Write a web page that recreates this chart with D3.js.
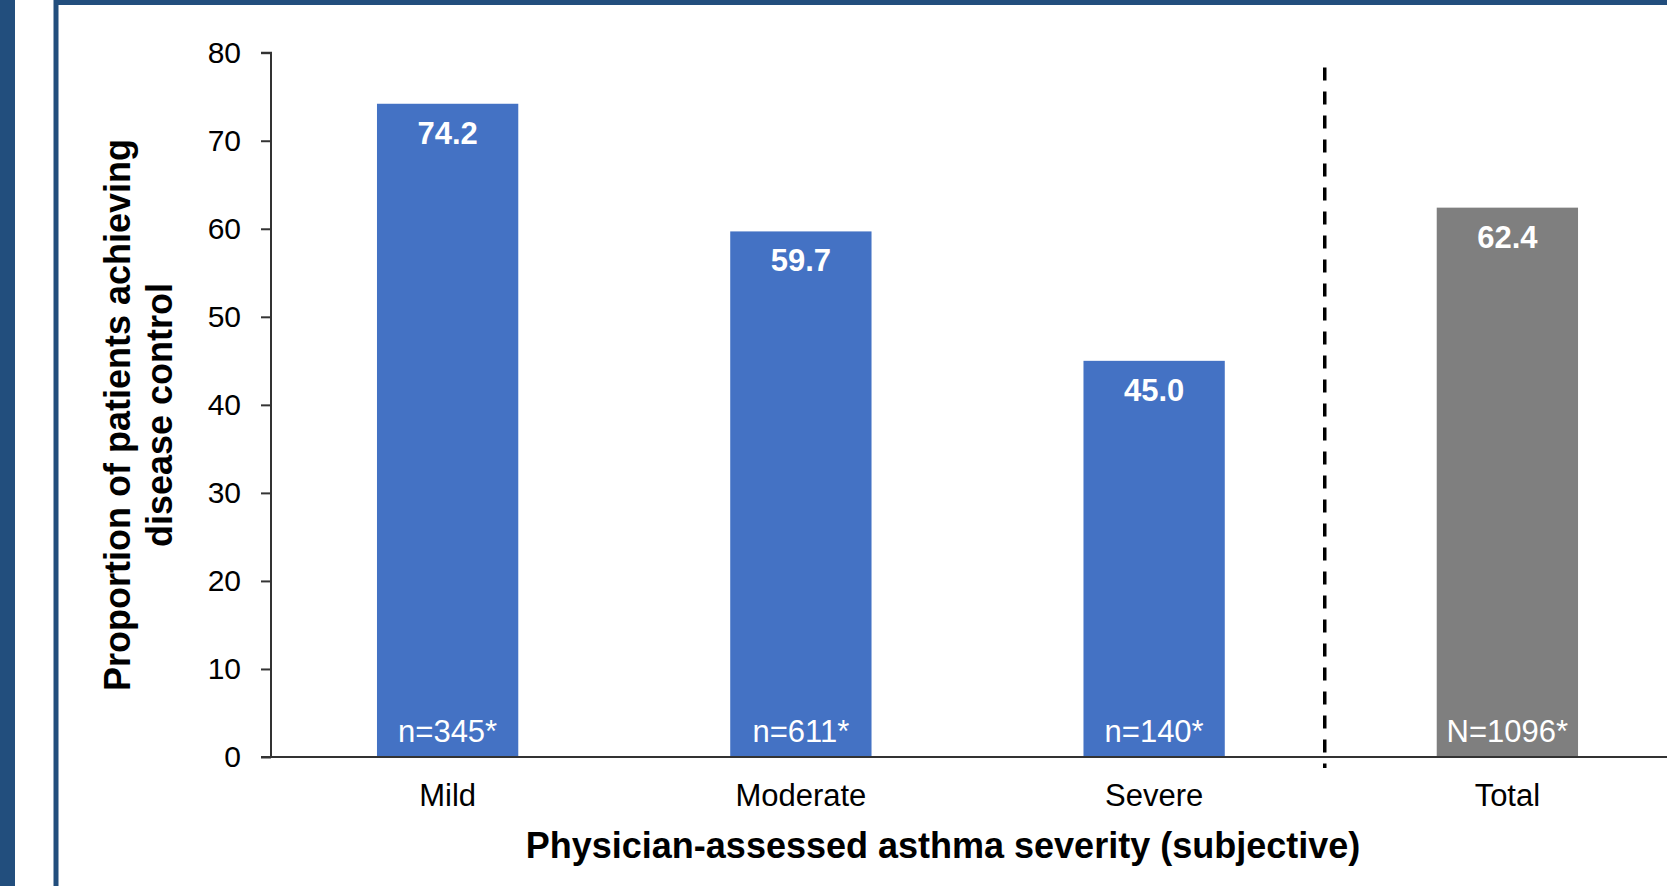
<!DOCTYPE html>
<html>
<head>
<meta charset="utf-8">
<script src="https://cdn.jsdelivr.net/npm/d3@7/dist/d3.min.js"></script>
<style>
  html, body { margin: 0; padding: 0; background: #ffffff; }
  svg { display: block; font-family: "Liberation Sans", Arial, sans-serif; }
</style>
</head>
<body>
<svg id="chart" width="1667" height="886"></svg>
<script>
// Disease control by physician-assessed asthma severity
const categories = ["Mild", "Moderate", "Severe", "Total"];
const values = [74.2, 59.7, 45.0, 62.4];
const sampleLabels = ["n=345*", "n=611*", "n=140*", "N=1096*"];
const yTicks = [0, 10, 20, 30, 40, 50, 60, 70, 80];

const W = 1667, H = 886;
const svg = d3.select("#chart");
const frameColor = "#224e7d";

// Slide frame: dark strip on the left, bordered panel
svg.append("rect").attr("x", 0).attr("y", 0).attr("width", W).attr("height", H).attr("fill", "#ffffff");
svg.append("rect").attr("x", 0).attr("y", 0).attr("width", 15).attr("height", H).attr("fill", frameColor);
svg.append("rect").attr("x", 56).attr("y", 2.5).attr("width", W + 20).attr("height", H + 20)
  .attr("fill", "none").attr("stroke", frameColor).attr("stroke-width", 5);

const plot = { left: 271, right: 1684, top: 52.7, bottom: 757 };

const x = d3.scaleBand()
  .domain(categories)
  .range([plot.left, plot.right])
  .paddingInner(0.6)
  .paddingOuter(0.3);

const y = d3.scaleLinear()
  .domain([0, 80])
  .range([plot.bottom, plot.top]);

// Bars
svg.append("g").selectAll("rect")
  .data(categories)
  .join("rect")
  .attr("x", d => x(d))
  .attr("y", (d, i) => y(values[i]))
  .attr("width", x.bandwidth())
  .attr("height", (d, i) => y(0) - y(values[i]))
  .attr("fill", d => d === "Total" ? "#7f7f7f" : "#4472c4");

// Value labels inside the top of each bar
svg.append("g").selectAll("text")
  .data(categories)
  .join("text")
  .attr("x", d => x(d) + x.bandwidth() / 2)
  .attr("y", (d, i) => y(values[i]) + 40)
  .attr("text-anchor", "middle")
  .attr("fill", "#ffffff")
  .attr("font-weight", "bold")
  .attr("font-size", 31)
  .text((d, i) => values[i].toFixed(1));

// Sample size labels at the base of each bar
svg.append("g").selectAll("text")
  .data(categories)
  .join("text")
  .attr("x", d => x(d) + x.bandwidth() / 2)
  .attr("y", y(0) - 15)
  .attr("text-anchor", "middle")
  .attr("fill", "#ffffff")
  .attr("font-size", 31)
  .text((d, i) => sampleLabels[i]);

// Y axis
const yAxis = svg.append("g")
  .attr("transform", `translate(${plot.left},0)`)
  .call(d3.axisLeft(y).tickValues(yTicks).tickSize(10).tickPadding(20).tickFormat(d3.format("d")));
yAxis.select(".domain").attr("stroke", "#333").attr("stroke-width", 2)
  .attr("d", `M-10,${y(80)}H0V${y(0)}`);
yAxis.selectAll(".tick line").attr("stroke", "#333").attr("stroke-width", 2);
yAxis.selectAll(".tick text").attr("font-size", 30).attr("fill", "#000")
  .attr("font-family", "Liberation Sans, Arial, sans-serif");

// X axis baseline running to the panel edge
svg.append("line")
  .attr("x1", plot.left - 10).attr("x2", W)
  .attr("y1", y(0)).attr("y2", y(0))
  .attr("stroke", "#333").attr("stroke-width", 2);

// Category labels
svg.append("g").selectAll("text")
  .data(categories)
  .join("text")
  .attr("x", d => x(d) + x.bandwidth() / 2)
  .attr("y", y(0) + 49)
  .attr("text-anchor", "middle")
  .attr("fill", "#000")
  .attr("font-size", 31)
  .text(d => d);

// Dashed separator between severity groups and the total
const sepX = x("Severe") + x.bandwidth() + (x("Total") - x("Severe") - x.bandwidth()) / 2 - 6;
svg.append("line")
  .attr("x1", sepX).attr("x2", sepX)
  .attr("y1", 67.5).attr("y2", y(0) + 11)
  .attr("stroke", "#000").attr("stroke-width", 3.5)
  .attr("stroke-dasharray", "13,11");

// Axis titles
svg.append("text")
  .attr("x", 943).attr("y", 858)
  .attr("text-anchor", "middle")
  .attr("font-weight", "bold")
  .attr("font-size", 36)
  .attr("fill", "#000")
  .text("Physician-assessed asthma severity (subjective)");

const yTitle = svg.append("text")
  .attr("transform", "translate(130,415) rotate(-90)")
  .attr("text-anchor", "middle")
  .attr("font-weight", "bold")
  .attr("font-size", 36)
  .attr("fill", "#000");
yTitle.append("tspan").attr("x", 0).attr("dy", 0).text("Proportion of patients achieving");
yTitle.append("tspan").attr("x", 0).attr("dy", 42).text("disease control");
</script>
</body>
</html>
